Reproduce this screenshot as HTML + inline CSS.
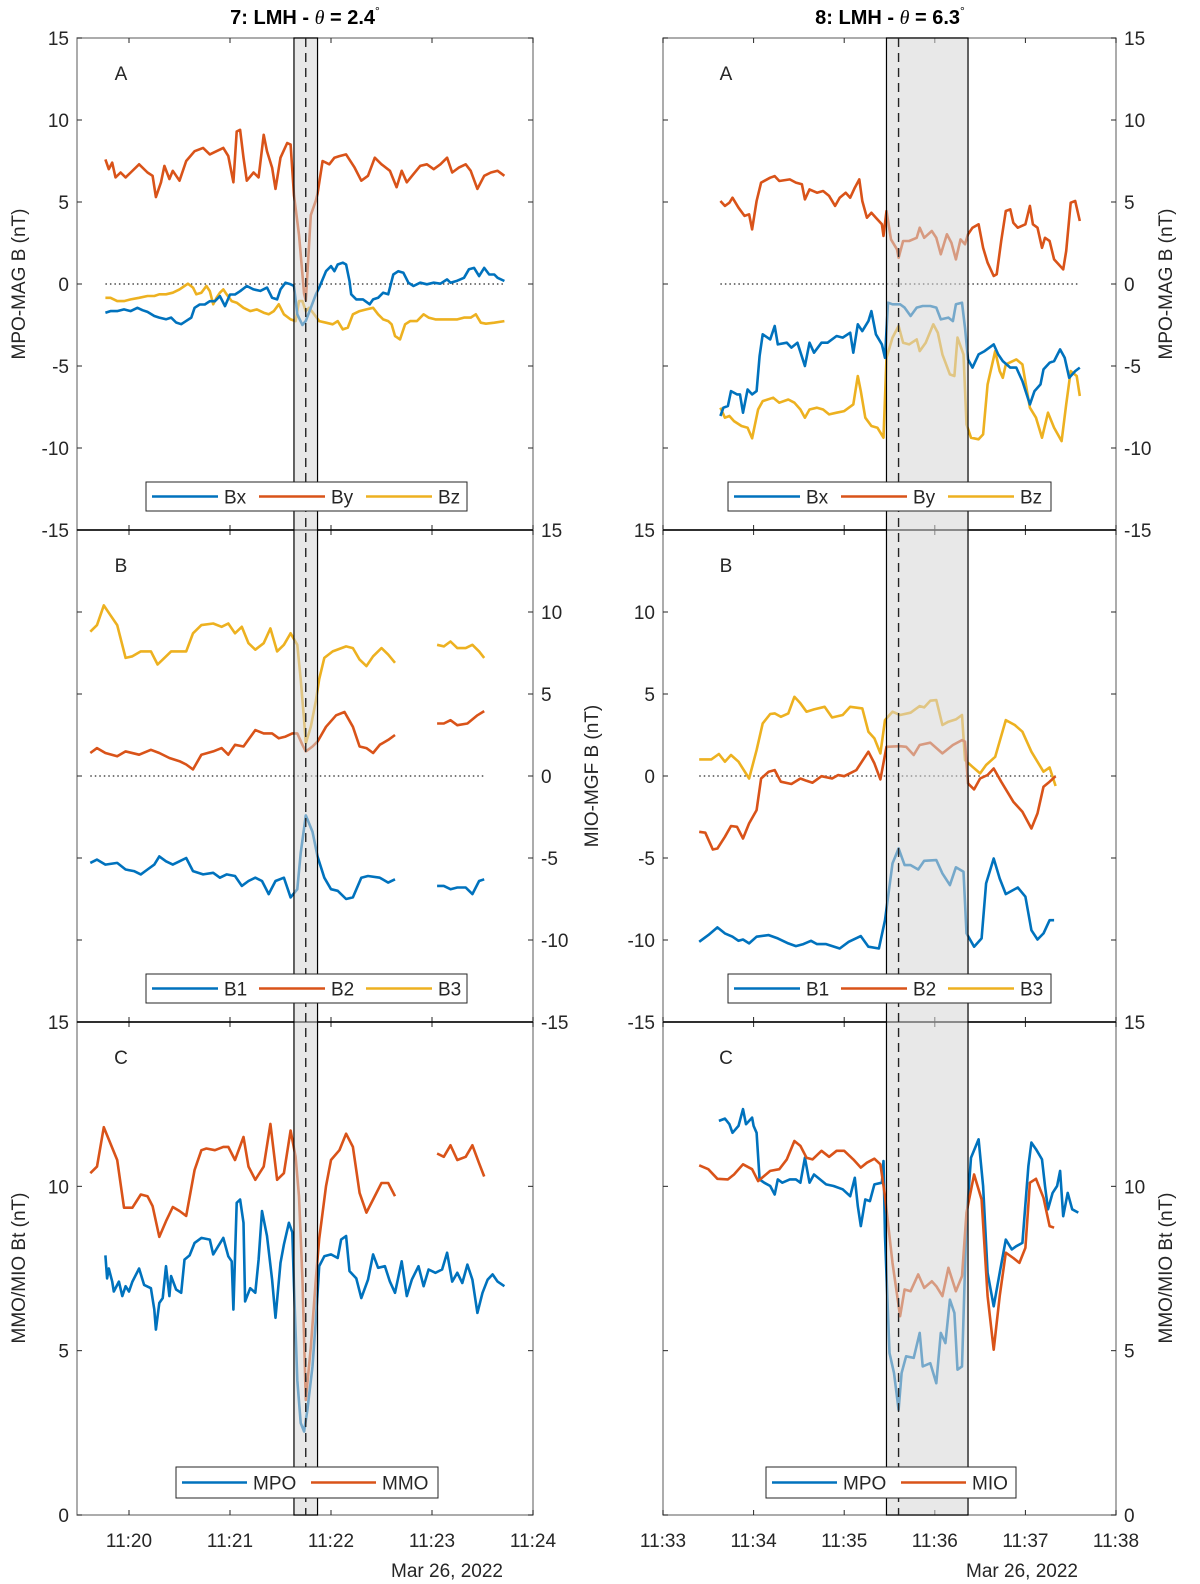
<!DOCTYPE html>
<html><head><meta charset="utf-8"><title>LMH events 7 and 8</title>
<style>
html,body{margin:0;padding:0;background:#fff;}
svg{display:block;font-family:"Liberation Sans",Arial,sans-serif;}
</style></head>
<body>
<svg id="fig" width="1200" height="1584" viewBox="0 0 1200 1584" xmlns="http://www.w3.org/2000/svg"></svg>
<script>
// ---------- DATA (times in seconds after 11:19:00 for left, 11:33:00 for right) ----------
const tByL=[46,48,50,52,55,58,61,66,71,74,76,79,81,84,86,90,94,99,104,108,112,116,119,122,124,126,128,130,134,137,140,142,145,147,150,154,156,158,161,164,165,168,171,172,175,179,182,185,189,194,198,202,206,210,215,219,222,225,229,233,237,241,245,249,252,256,260,263,267,271,275,279,283];
const byL=[7.6,7.0,7.4,6.5,6.8,6.5,6.8,7.3,6.8,6.6,5.3,6.2,7.2,6.4,6.9,6.3,7.5,8.1,8.3,7.9,8.1,8.3,7.8,6.2,9.3,9.4,7.7,6.3,6.8,6.5,9.1,8.1,7.1,5.8,7.7,8.6,8.5,5.4,3.0,-0.6,-1.0,4.2,5.1,5.5,7.5,7.3,7.7,7.8,7.9,7.1,6.3,6.6,7.7,7.3,6.9,5.9,6.9,6.2,6.7,7.2,7.3,7.0,7.3,7.7,6.8,7.1,7.3,6.9,5.8,6.6,6.8,6.9,6.6];
const tBxL=[46,49,53,57,61,65,68,71,75,78,82,85,88,91,94,97,99,102,105,108,111,114,117,120,123,126,130,134,138,142,145,148,150,153,156,158,160,163,165,168,171,173,177,180,182,184,187,189,191,192,195,199,203,205,208,211,214,217,220,223,226,229,233,237,241,245,249,251,255,259,262,265,268,271,274,277,279,283];
const bxL=[-1.75,-1.65,-1.65,-1.55,-1.65,-1.45,-1.6,-1.7,-1.95,-2.05,-2.15,-2.05,-2.35,-2.45,-2.25,-2.05,-1.45,-1.25,-1.25,-1.05,-1.05,-0.74,-1.35,-0.64,-0.64,-0.44,-0.12,-0.33,-0.42,-0.22,-0.84,-0.94,-0.33,0.08,-0.02,-0.12,-1.85,-2.5,-2.25,-1.45,-0.63,-0.22,0.78,1.09,0.78,1.19,1.3,1.19,0.18,-0.63,-0.94,-0.94,-1.24,-0.94,-0.84,-0.53,-0.63,0.58,0.78,0.68,0.08,-0.12,0.08,-0.02,0.08,0.02,0.28,0.08,0.2,0.38,0.9,0.98,0.48,0.98,0.58,0.58,0.38,0.18];
const tBzL=[46,49,53,57,61,66,71,75,78,82,86,90,93,95,98,100,103,106,108,110,112,114,116,118,121,124,128,132,136,140,143,146,149,152,156,159,161,163,165,167,170,173,177,181,184,187,190,193,197,201,205,208,211,214,216,218,221,224,227,231,235,238,242,246,251,255,259,263,266,269,272,277,283];
const bzL=[-0.84,-0.84,-1.04,-1.04,-0.94,-0.84,-0.73,-0.73,-0.63,-0.63,-0.53,-0.33,-0.12,0.02,-0.22,-0.63,-0.53,-0.12,-0.43,-1.24,-0.84,-0.53,-0.33,-0.63,-1.04,-1.14,-1.45,-1.65,-1.55,-1.75,-1.85,-1.65,-1.24,-1.85,-2.16,-2.26,-1.04,-1.04,-1.65,-1.45,-1.85,-2.26,-2.36,-2.46,-2.26,-2.77,-2.66,-1.85,-1.65,-1.55,-1.45,-1.85,-2.16,-2.26,-2.46,-3.17,-3.38,-2.46,-2.26,-2.26,-1.85,-2.05,-2.16,-2.16,-2.16,-2.16,-2.05,-2.05,-1.85,-2.36,-2.42,-2.36,-2.26];

const tB3L=[37,41,45,49,53,58,62,67,73,77,81,85,94,98,103,110,115,119,123,127,131,135,140,144,148,152,156,160,162,164,165,168,171,173,176,181,189,193,197,201,205,210,214,218,230,243,247,251,255,260,264,268,271];
const b3L=[8.8,9.2,10.4,9.8,9.2,7.2,7.3,7.6,7.6,6.8,7.2,7.6,7.6,8.7,9.2,9.3,9.1,9.3,8.7,9.1,8.1,7.7,8.1,9.0,7.6,8.0,8.7,8.0,5.9,3.4,2.0,3.0,4.6,5.9,7.2,7.6,7.9,7.8,7.1,6.7,7.3,7.8,7.4,6.9,null,8.0,7.9,8.2,7.8,7.8,8.0,7.6,7.2];
const tB2L=[37,41,46,53,58,66,73,78,84,90,94,98,103,110,115,119,123,128,135,140,145,149,153,157,160,163,165,169,172,177,183,188,193,197,201,205,209,214,218,230,243,247,251,255,261,267,271];
const b2L=[1.4,1.7,1.4,1.2,1.5,1.3,1.6,1.4,1.1,0.9,0.7,0.4,1.3,1.5,1.7,1.3,1.9,1.8,2.8,2.6,2.6,2.3,2.4,2.6,2.6,1.9,1.5,1.8,2.1,3.0,3.7,3.9,3.0,1.8,1.7,1.4,1.9,2.2,2.5,null,3.2,3.2,3.4,3.1,3.2,3.7,3.96];
const tB1L=[37,41,46,53,58,63,67,71,75,78,82,86,90,94,98,104,110,114,118,123,127,131,135,139,143,147,152,156,160,162,165,169,172,176,180,184,189,193,198,202,209,214,218,230,243,247,251,255,260,264,268,271];
const b1L=[-5.3,-5.1,-5.4,-5.3,-5.7,-5.8,-6.0,-5.7,-5.4,-4.9,-5.2,-5.4,-5.2,-5.0,-5.8,-6.0,-5.9,-6.2,-6.0,-6.1,-6.7,-6.4,-6.2,-6.4,-7.2,-6.4,-6.2,-7.4,-6.9,-4.7,-2.4,-3.4,-4.9,-6.2,-6.9,-7.0,-7.5,-7.4,-6.2,-6.1,-6.2,-6.5,-6.3,null,-6.7,-6.7,-6.9,-6.8,-6.8,-7.2,-6.4,-6.3];

const tMmo=[37,41,45,49,53,57,62,67,71,74,78,82,86,90,94,99,103,106,111,116,119,123,128,131,135,140,144,148,152,156,159,161,163,165,168,171,173,177,180,185,189,193,197,201,205,210,214,218,230,243,247,251,255,260,264,268,271];
const mmo=[10.4,10.6,11.8,11.3,10.8,9.35,9.35,9.75,9.7,9.4,8.46,8.94,9.37,9.25,9.1,10.5,11.1,11.15,11.1,11.2,11.2,10.8,11.5,10.6,10.2,10.6,11.9,10.2,10.4,11.7,10.9,9.7,7.2,3.5,5.1,7.2,8.4,10.0,10.8,11.1,11.6,11.2,9.8,9.2,9.6,10.1,10.1,9.7,null,11.0,10.9,11.25,10.8,10.9,11.25,10.7,10.3];
const tMpoL=[46,47,48,50,51,54,56,58,60,62,66,69,73,75,76,78,80,82,84,85,88,91,93,96,99,103,108,110,113,116,119,121,122,124,126,128,129,132,135,137,139,142,145,147,150,152,155,157,158,160,162,164,166,169,171,173,176,180,184,186,189,191,195,198,202,205,208,212,215,218,222,225,228,232,235,238,242,246,249,252,255,258,261,264,267,270,273,276,279,283];
const mpoL=[7.9,7.2,7.5,7.1,6.8,7.1,6.66,6.96,6.8,7.1,7.5,7.0,6.9,6.25,5.64,6.45,6.6,7.57,6.66,7.27,6.86,6.76,7.77,7.9,8.28,8.43,8.38,7.93,8.18,8.43,7.87,7.72,6.25,9.5,9.6,8.89,6.5,6.9,6.76,7.77,9.25,8.49,7.16,6.0,7.67,8.23,8.89,8.6,6.96,4.1,2.8,2.54,3.2,4.52,5.95,7.57,7.87,7.93,7.82,8.38,8.49,7.42,7.2,6.6,7.16,7.93,7.52,7.57,7.1,6.76,7.72,6.66,7.16,7.57,6.96,7.47,7.37,7.47,7.98,7.1,7.37,7.06,7.62,7.16,6.15,6.76,7.16,7.32,7.1,6.96];

const tByR=[38,41,44,46,50,54,57,59,62,65,71,74,77,84,88,92,94,97,102,106,110,114,117,121,124,127,130,132,135,138,141,145,146,148,151,155,156,159,163,168,170,173,178,181,184,188,191,194,197,200,202,205,209,212,215,219,221,224,227,230,232,235,240,243,245,248,251,253,256,259,265,267,270,273,276];
const byR=[5.06,4.76,4.96,5.26,4.65,4.15,4.25,3.33,5.06,6.18,6.48,6.58,6.28,6.38,6.18,6.08,5.16,5.77,5.57,5.67,5.37,4.76,5.26,5.57,5.26,5.87,6.38,5.06,4.04,4.35,4.04,3.64,2.93,4.45,2.72,2.11,1.6,2.62,2.62,2.82,3.43,2.82,3.23,2.82,1.81,3.03,2.52,1.5,2.72,2.42,3.03,3.43,3.64,2.21,1.3,0.49,0.59,2.62,4.45,4.55,3.74,3.43,3.64,4.76,3.64,3.43,2.21,2.82,2.62,1.5,0.89,2.01,4.96,5.06,3.84];
const tBxR=[38,40,43,45,49,51,53,56,59,62,64,66,71,74,76,82,85,89,94,97,100,105,109,115,119,124,126,129,132,136,138,141,145,147,149,152,157,160,164,168,172,177,181,184,189,192,194,198,200,202,205,209,213,219,222,225,230,234,238,243,246,250,252,256,259,263,266,269,273,276];
const bxR=[-8.05,-7.54,-7.44,-6.53,-6.73,-6.73,-7.85,-6.43,-6.73,-6.53,-4.39,-3.07,-3.38,-2.56,-3.68,-3.58,-3.88,-3.58,-5.0,-3.58,-4.19,-3.58,-3.58,-3.17,-3.27,-2.97,-4.19,-2.46,-2.87,-2.26,-1.65,-3.07,-3.68,-4.5,-1.14,-1.24,-1.24,-1.44,-1.95,-1.44,-1.34,-1.34,-1.44,-2.16,-2.05,-2.26,-1.24,-1.14,-2.67,-4.6,-5.1,-4.29,-4.09,-3.68,-4.29,-4.7,-5.1,-5.1,-5.92,-7.34,-6.53,-6.12,-5.21,-4.8,-4.7,-3.99,-4.5,-5.72,-5.31,-5.1];
const tBzR=[38,41,44,47,52,56,59,63,66,73,77,83,87,91,94,97,102,106,110,115,120,126,129,131,134,138,142,146,148,152,156,159,163,168,170,174,179,182,185,190,193,195,199,201,204,209,212,215,220,223,225,227,234,238,243,247,251,255,259,264,267,270,274,276];
const bzR=[-7.54,-8.15,-8.05,-8.36,-8.66,-8.76,-9.41,-7.65,-7.14,-6.93,-7.24,-7.04,-7.24,-7.65,-8.15,-7.65,-7.54,-7.65,-7.95,-7.85,-7.75,-7.34,-5.61,-6.53,-8.15,-8.66,-8.76,-9.37,-4.5,-3.27,-2.56,-3.58,-3.68,-3.38,-4.09,-3.58,-2.46,-2.97,-4.29,-5.51,-5.61,-3.27,-4.29,-8.56,-9.37,-9.47,-9.17,-6.12,-4.09,-5.31,-5.72,-4.9,-4.6,-4.9,-7.54,-8.15,-9.37,-7.85,-8.76,-9.58,-7.34,-5.31,-5.61,-6.83];

const tB3R=[24,32,37,41,45,50,57,62,66,71,74,78,83,87,91,95,100,107,112,119,124,132,136,140,144,147,152,157,164,170,173,177,181,185,189,194,198,200,205,210,214,220,227,233,238,244,252,256,260];
const b3R=[1.01,1.01,1.34,0.87,1.28,0.87,-0.15,1.58,3.21,3.78,3.82,3.61,3.82,4.83,4.43,3.92,4.06,4.22,3.57,3.72,4.22,4.12,2.7,2.29,1.38,3.41,3.92,3.72,3.86,4.26,4.18,4.59,4.63,3.11,3.31,3.45,3.72,0.97,0.56,0.16,0.67,1.17,3.41,3.11,2.7,1.48,0.26,0.52,-0.61];
const tB2R=[24,28,33,36,41,45,49,53,57,62,65,70,74,78,85,91,95,99,105,112,116,120,128,136,140,144,148,157,161,166,170,177,185,192,198,200,202,206,210,215,219,224,232,238,244,248,252,256,260];
const b2R=[-3.4,-3.46,-4.48,-4.42,-3.71,-3.05,-3.1,-3.81,-2.89,-2.08,-0.15,0.26,0.36,-0.35,-0.49,-0.15,-0.29,-0.41,-0.01,-0.15,0.06,-0.01,0.36,1.48,0.77,-0.21,1.78,1.82,1.78,1.28,1.89,2.03,1.38,1.89,2.19,2.09,-0.45,-0.82,-0.15,0.06,0.46,-0.35,-1.57,-2.18,-3.2,-2.28,-0.65,-0.35,-0.01];
const tB1R=[24,30,36,41,46,50,53,57,62,70,76,83,88,93,98,102,108,117,123,131,136,143,147,152,156,160,164,169,173,181,185,190,194,199,201,206,211,214,219,223,227,235,240,244,248,252,256,259];
const b1R=[-10.11,-9.7,-9.23,-9.6,-9.8,-10.05,-9.97,-10.21,-9.8,-9.7,-9.9,-10.21,-10.37,-10.25,-10.05,-10.25,-10.25,-10.52,-10.11,-9.76,-10.41,-10.52,-8.79,-5.33,-4.42,-5.43,-5.43,-5.7,-5.17,-5.13,-5.94,-6.65,-5.57,-5.84,-9.6,-10.41,-9.9,-6.55,-5.03,-6.25,-7.2,-6.8,-7.36,-9.4,-9.97,-9.6,-8.79,-8.79];

const tMpoR=[37,41,44,46,50,53,55,59,60,62,64,67,71,74,76,79,84,88,91,94,97,100,104,108,113,119,124,127,129,131,134,137,140,145,146,147,150,153,156,158,161,166,170,172,177,181,184,187,190,193,195,198,201,204,209,212,215,219,223,227,231,234,238,242,244,247,251,253,255,258,261,263,265,268,271,275];
const mpoR=[11.99,12.06,11.89,11.63,11.84,12.35,11.89,12.09,11.84,11.63,10.21,10.11,10.01,9.75,10.21,10.11,10.21,10.21,10.11,10.87,10.11,10.36,10.21,10.06,10.01,9.91,9.7,10.26,9.4,8.79,9.6,9.55,10.06,10.11,10.77,8.49,4.93,4.32,3.2,4.32,4.83,4.78,5.54,4.52,4.62,4.01,5.54,5.23,6.55,6.15,4.42,4.52,8.99,10.87,11.43,10.01,7.37,6.35,7.37,8.38,8.08,8.18,8.28,10.62,11.33,11.13,10.82,10.01,9.3,9.8,10.01,10.47,9.09,9.8,9.3,9.2];
const tMio=[24,30,36,43,47,53,59,63,71,77,82,87,91,95,99,105,110,115,120,126,131,135,140,144,147,152,157,160,164,169,173,178,181,185,189,194,198,201,206,211,215,219,223,227,232,236,240,243,247,252,256,259];
const mio=[10.64,10.52,10.23,10.21,10.36,10.67,10.52,10.16,10.47,10.52,10.82,11.38,11.23,10.87,10.82,11.08,10.9,11.08,11.08,10.82,10.57,10.72,10.84,10.67,9.7,7.67,6.05,6.86,6.81,7.32,6.91,7.11,6.96,6.66,7.52,6.81,7.27,9.2,10.36,9.6,6.66,5.03,6.66,7.98,7.82,7.67,8.13,10.11,10.23,9.65,8.79,8.74];

const yTicksB=[-15,-10,-5,0,5,10,15];
const yTicksBt=[0,5,10,15];
const xTickSecs=[0,60,120,180,240,300];
const xLabelsL=["11:19","11:20","11:21","11:22","11:23","11:24"];
const xLabelsR=["11:33","11:34","11:35","11:36","11:37","11:38"];
const eventL=[158,165,172];
const eventR=[148,156,202];

// ---------- LAYOUT ----------
const NS="http://www.w3.org/2000/svg";
const svg=document.getElementById('fig');
const COL={blue:'#0072BD',orange:'#D95319',yellow:'#EDB120'};
const rows=[{y0:38,y1:530},{y0:530,y1:1022},{y0:1022,y1:1515}];
const cols={L:{x0:77,x1:533},R:{x0:663,x1:1116}};
function xL(s){return 533-(300-s)/60*101;}
function xR(s){return 663+s/60*90.6;}
function yScale(row,vmin,vmax){const r=rows[row];return v=>r.y1-(v-vmin)/(vmax-vmin)*(r.y1-r.y0);}
function mk(tag,attrs,parent){const e=document.createElementNS(NS,tag);for(const k in attrs)e.setAttribute(k,attrs[k]);(parent||svg).appendChild(e);return e;}
function txt(s,x,y,anchor,size,parent){const t=mk('text',{x:x,y:y,'text-anchor':anchor,'font-size':size,fill:'#262626'},parent);t.textContent=s;return t;}

const gFrames=mk('g',{});


const gLines=mk('g',{});


const gShade=mk('g',{});


const gTop=mk('g',{});



const panelDefs=[
 {c:'L',row:0,ticks:yTicksB,vmin:-15,vmax:15,side:'left',name:'left-panel-a'},
 {c:'L',row:1,ticks:yTicksB,vmin:-15,vmax:15,side:'right',name:'left-panel-b'},
 {c:'L',row:2,ticks:yTicksBt,vmin:0,vmax:15,side:'left',name:'left-panel-c'},
 {c:'R',row:0,ticks:yTicksB,vmin:-15,vmax:15,side:'right',name:'right-panel-a'},
 {c:'R',row:1,ticks:yTicksB,vmin:-15,vmax:15,side:'left',name:'right-panel-b'},
 {c:'R',row:2,ticks:yTicksBt,vmin:0,vmax:15,side:'right',name:'right-panel-c'}
];
panelDefs.forEach(p=>{
 const cx=cols[p.c], r=rows[p.row], ys=yScale(p.row,p.vmin,p.vmax);
 const g=mk('g',{},gFrames);
 
 
 const rect=mk('rect',{x:cx.x0,y:r.y0,width:cx.x1-cx.x0,height:r.y1-r.y0,fill:'none',stroke:'#7f7f7f','stroke-width':1.3},g);
 
 
 const xf=p.c==='L'?xL:xR;
 xTickSecs.forEach(s=>{const x=xf(s);
  if(x<cx.x0-1||x>cx.x1+1)return;
  mk('line',{x1:x,y1:r.y0,x2:x,y2:r.y0+5,stroke:'#262626','stroke-width':1},g);
  mk('line',{x1:x,y1:r.y1,x2:x,y2:r.y1-5,stroke:'#262626','stroke-width':1},g);});
 p.ticks.forEach(v=>{const y=ys(v);
  mk('line',{x1:cx.x0,y1:y,x2:cx.x0+5,y2:y,stroke:'#262626','stroke-width':1},g);
  mk('line',{x1:cx.x1,y1:y,x2:cx.x1-5,y2:y,stroke:'#262626','stroke-width':1},g);
  const lab=p.side==='left'?txt(String(v),cx.x0-8,y+7,'end',19,g):txt(String(v),cx.x1+8,y+7,'start',19,g);
  
  
 });
});
[530,1022].forEach(y=>{['L','R'].forEach(c=>{
 const l=mk('line',{x1:cols[c].x0,y1:y,x2:cols[c].x1,y2:y,stroke:'#000','stroke-width':1.6},gFrames);
 
 
});});

function zeroLine(c,row,s0,s1){const xf=c==='L'?xL:xR, y=yScale(row,-15,15)(0);
 const l=mk('line',{x1:xf(s0),y1:y,x2:xf(s1),y2:y,stroke:'#262626','stroke-width':1.2,'stroke-dasharray':'1.5,3'},gFrames);
 
 }
zeroLine('L',0,tByL[0],tByL[tByL.length-1]);
zeroLine('L',1,tB3L[0],tB3L[tB3L.length-1]);
zeroLine('R',0,tByR[0],tByR[tByR.length-1]);
zeroLine('R',1,tB3R[0],tB3R[tB3R.length-1]);

function series(name,c,row,vmin,vmax,ts,vs,color){
 const xf=c==='L'?xL:xR, ys=yScale(row,vmin,vmax);
 let d='',pen=false;
 for(let i=0;i<ts.length;i++){
  if(vs[i]===null){pen=false;continue;}
  d+=(pen?'L':'M')+xf(ts[i]).toFixed(1)+','+ys(vs[i]).toFixed(1);pen=true;}
 const p=mk('path',{d:d,fill:'none',stroke:color,'stroke-width':2.6,'stroke-linejoin':'round'},gLines);
 
 
}
series('bz-line-7','L',0,-15,15,tBzL,bzL,COL.yellow);
series('bx-line-7','L',0,-15,15,tBxL,bxL,COL.blue);
series('by-line-7','L',0,-15,15,tByL,byL,COL.orange);
series('b3-line-7','L',1,-15,15,tB3L,b3L,COL.yellow);
series('b2-line-7','L',1,-15,15,tB2L,b2L,COL.orange);
series('b1-line-7','L',1,-15,15,tB1L,b1L,COL.blue);
series('mpo-bt-line-7','L',2,0,15,tMpoL,mpoL,COL.blue);
series('mmo-bt-line-7','L',2,0,15,tMmo,mmo,COL.orange);
series('bz-line-8','R',0,-15,15,tBzR,bzR,COL.yellow);
series('bx-line-8','R',0,-15,15,tBxR,bxR,COL.blue);
series('by-line-8','R',0,-15,15,tByR,byR,COL.orange);
series('b3-line-8','R',1,-15,15,tB3R,b3R,COL.yellow);
series('b2-line-8','R',1,-15,15,tB2R,b2R,COL.orange);
series('b1-line-8','R',1,-15,15,tB1R,b1R,COL.blue);
series('mpo-bt-line-8','R',2,0,15,tMpoR,mpoR,COL.blue);
series('mio-bt-line-8','R',2,0,15,tMio,mio,COL.orange);

function event(c,ev,name){const xf=c==='L'?xL:xR;const a=xf(ev[0]),m=xf(ev[1]),b=xf(ev[2]);
 const r=mk('rect',{x:a,y:38,width:b-a,height:1515-38,fill:'#d6d6d6','fill-opacity':0.55,stroke:'#000','stroke-width':1.2},gShade);
 
 
 const l=mk('line',{x1:m,y1:38,x2:m,y2:1515,stroke:'#222','stroke-width':1.4,'stroke-dasharray':'9,6'},gShade);
 
 }
event('L',eventL,'event-7-interval');
event('R',eventR,'event-8-interval');

xTickSecs.forEach((s,i)=>{
 if(i>0){const t=txt(xLabelsL[i],xL(s),1547,'middle',19,gTop);
  
  }
 const t2=txt(xLabelsR[i],xR(s),1547,'middle',19,gTop);
 
 
});
const d1=txt('Mar 26, 2022',447,1577,'middle',19,gTop);


const d2=txt('Mar 26, 2022',1022,1577,'middle',19,gTop);



[[121,0,'A'],[121,1,'B'],[121,2,'C'],[726,0,'A'],[726,1,'B'],[726,2,'C']].forEach(a=>{
 const t=txt(a[2],a[0],rows[a[1]].y0+42,'middle',19,gTop);
 
 });

function vlabel(s,x,y,name){const t=mk('text',{x:0,y:0,'text-anchor':'middle','font-size':19,fill:'#262626',transform:'translate('+x+','+y+') rotate(-90)'},gTop);t.textContent=s;
 
 }
vlabel('MPO-MAG B (nT)',25,284,'y-axis-title-mpo-mag-left');
vlabel('MMO/MIO Bt (nT)',25,1268,'y-axis-title-bt-left');
vlabel('MIO-MGF B (nT)',598,776,'y-axis-title-mio-mgf');
vlabel('MPO-MAG B (nT)',1172,284,'y-axis-title-mpo-mag-right');
vlabel('MMO/MIO Bt (nT)',1172,1268,'y-axis-title-bt-right');

function title(x,num,ang,name){const t=mk('text',{x:x,y:24,'text-anchor':'middle','font-size':20,'font-weight':'bold',fill:'#000'},gTop);
 
 
 const s1=mk('tspan',{},t);s1.textContent=num+': LMH - ';
 const s2=mk('tspan',{'font-family':'Liberation Serif, serif','font-style':'italic','font-weight':'normal'},t);s2.textContent='\u03b8';
 const s3=mk('tspan',{},t);s3.textContent=' = '+ang;
 const s4=mk('tspan',{'font-size':12,'font-weight':'normal',dy:-9},t);s4.textContent='\u00b0';}
title(305,'7','2.4','title-event-7');
title(890,'8','6.3','title-event-8');

function legend(x,y,w,h,entries,step,lineLen,name){
 const g=mk('g',{},gTop);
 
 
 mk('rect',{x:x,y:y,width:w,height:h,fill:'#fff',stroke:'#262626','stroke-width':1},g);
 entries.forEach((e,i)=>{const ex=x+6+i*step, cy=y+h/2;
  const ln=mk('line',{x1:ex,y1:cy,x2:ex+lineLen,y2:cy,stroke:e[1],'stroke-width':2.6},g);
  
  
  const t=txt(e[0],ex+lineLen+6,cy+7,'start',19,g);
  
  });
}
const bEntries=[['Bx',COL.blue],['By',COL.orange],['Bz',COL.yellow]];
const b123=[['B1',COL.blue],['B2',COL.orange],['B3',COL.yellow]];
legend(146,482,321,29,bEntries,107,66,'legend-a-7');
legend(728,482,323,29,bEntries,107,66,'legend-a-8');
legend(146,974,321,29,b123,107,66,'legend-b-7');
legend(728,974,323,29,b123,107,66,'legend-b-8');
legend(176,1467,262,31,[['MPO',COL.blue],['MMO',COL.orange]],129,65,'legend-c-7');
legend(766,1467,250,31,[['MPO',COL.blue],['MIO',COL.orange]],129,65,'legend-c-8');
</script>
</body></html>
